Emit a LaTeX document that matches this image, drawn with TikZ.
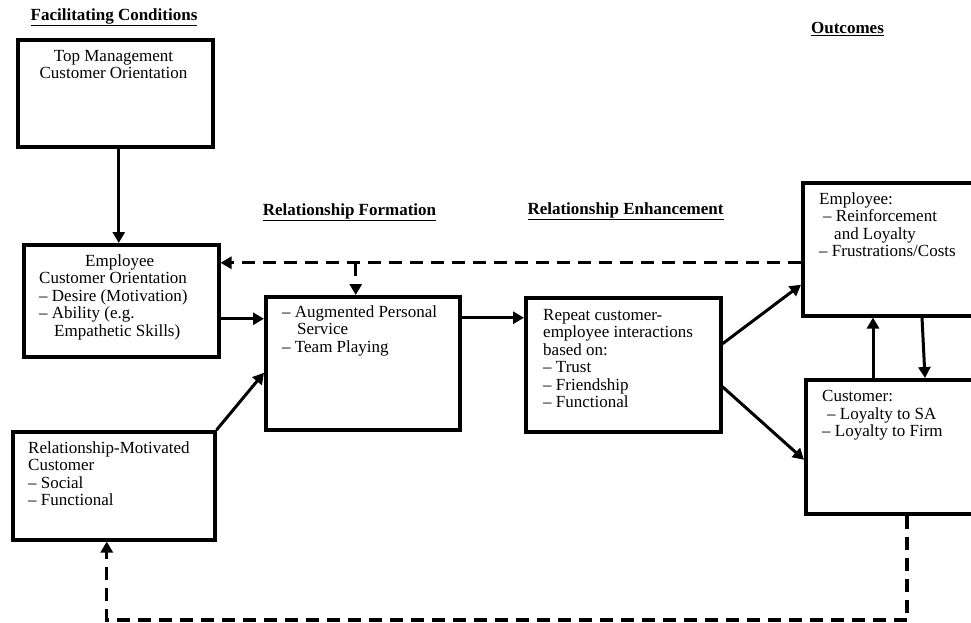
\documentclass[tikz,border=0pt]{standalone}
\usepackage{fontspec}
\setmainfont{Liberation Serif}
\usetikzlibrary{arrows.meta,calc}
\begin{document}
\begin{tikzpicture}[x=1pt,y=-1pt,
  box/.style={draw, line width=3.5pt, anchor=north west, inner sep=0pt},
  txt/.style={inner sep=0pt, anchor=base west, font=\fontsize{17}{17.5}\selectfont},
  hdr/.style={inner sep=0pt, anchor=base, font=\fontsize{17}{17.5}\selectfont\bfseries},
  arr/.style={line width=3pt, -{Triangle[length=11pt,width=12pt]}},
  darr/.style={line width=3.2pt, dash pattern=on 13pt off 8pt, -{Triangle[length=11pt,width=12pt]}}
]
\clip (0,0) rectangle (971,622);
\fill[white] (0,0) rectangle (971,622);

% headers
\node[hdr] (h1) at (114,20.5) {\underline{Facilitating Conditions}};
\node[hdr] (h2) at (847.5,33.5) {\underline{Outcomes}};
\node[hdr] (h3) at (349.5,215) {\underline{Relationship Formation}};
\node[hdr] (h4) at (625.5,214) {\underline{Relationship Enhancement}};

% boxes
\node[box, minimum width=195pt, minimum height=107pt] (tm) at (16,38) {};
\node[box, minimum width=195pt, minimum height=112pt] (eco) at (22,243) {};
\node[box, minimum width=202pt, minimum height=108pt] (rmc) at (11,430) {};
\node[box, minimum width=194pt, minimum height=133pt] (aug) at (264,295) {};
\node[box, minimum width=195pt, minimum height=134pt] (rep) at (524,296) {};
\node[box, minimum width=184pt, minimum height=133pt] (emp) at (801,181) {};
\node[box, minimum width=181pt, minimum height=134pt] (cus) at (804,378) {};

% texts
\node[txt, anchor=base] (tmt) at (113.5,61) {\begin{tabular}[t]{@{}c@{}}Top Management\\Customer Orientation\end{tabular}};
\node[txt] (ecot) at (39,266) {\begin{tabular}[t]{@{}l@{}}\hspace*{46pt}Employee\\Customer Orientation\\– Desire (Motivation)\\– Ability (e.g.\\\hspace*{15pt}Empathetic Skills)\end{tabular}};
\node[txt] (rmct) at (28,453) {\begin{tabular}[t]{@{}l@{}}Relationship-Motivated\\Customer\\– Social\\– Functional\end{tabular}};
\node[txt] (augt) at (282,317) {\begin{tabular}[t]{@{}l@{}}– Augmented Personal\\\hspace*{15pt}Service\\– Team Playing\end{tabular}};
\node[txt] (rept) at (543,320) {\begin{tabular}[t]{@{}l@{}}Repeat customer-\\employee interactions\\based on:\\– Trust\\– Friendship\\– Functional\end{tabular}};
\node[txt] (empt) at (819,204) {\begin{tabular}[t]{@{}l@{}}Employee:\\\hspace*{4pt}– Reinforcement\\\hspace*{15pt}and Loyalty\\– Frustrations/Costs\end{tabular}};
\node[txt] (cust) at (822,401.5) {\begin{tabular}[t]{@{}l@{}}Customer:\\\hspace*{5pt}– Loyalty to SA\\– Loyalty to Firm\end{tabular}};

% solid arrows
\draw[arr] ([xshift=3.5pt]tm.south) -- ([xshift=-2.5pt]eco.north);
\draw[arr] ([yshift=-18pt]eco.east) -- ([yshift=-18pt]eco.east -| aug.west);
\draw[arr] (rmc.north east) -- ([yshift=-9.5pt]aug.west);
\draw[arr] ([yshift=45.5pt]aug.east) -- ([yshift=45.5pt]aug.east -| rep.west);
\draw[arr] ([yshift=21pt]rep.east) -- ([yshift=-35.5pt]emp.west);
\draw[arr] ([yshift=-22pt]rep.east) -- ([yshift=-13pt]cus.west);
\draw[arr] ([xshift=69pt]cus.north west) -- ([xshift=69pt]cus.north west |- emp.south);
\draw[arr] ([xshift=121pt]emp.south west) -- ([xshift=121pt]cus.north west);

% dashed feedback
\coordinate (dl) at ([yshift=-13.5pt]emp.west);
\coordinate (bot) at (0,620);
\draw[darr] (dl) -- (dl -| eco.east);
\draw[darr] ([xshift=-7pt]aug.north |- dl) -- ([xshift=-7pt]aug.north);
\draw[darr] ([xshift=103pt]cus.south west) -- ([xshift=103pt]cus.south west |- bot) -- ([xshift=-7pt]rmc.south |- bot) -- ([xshift=-7pt]rmc.south);
\end{tikzpicture}
\end{document}
